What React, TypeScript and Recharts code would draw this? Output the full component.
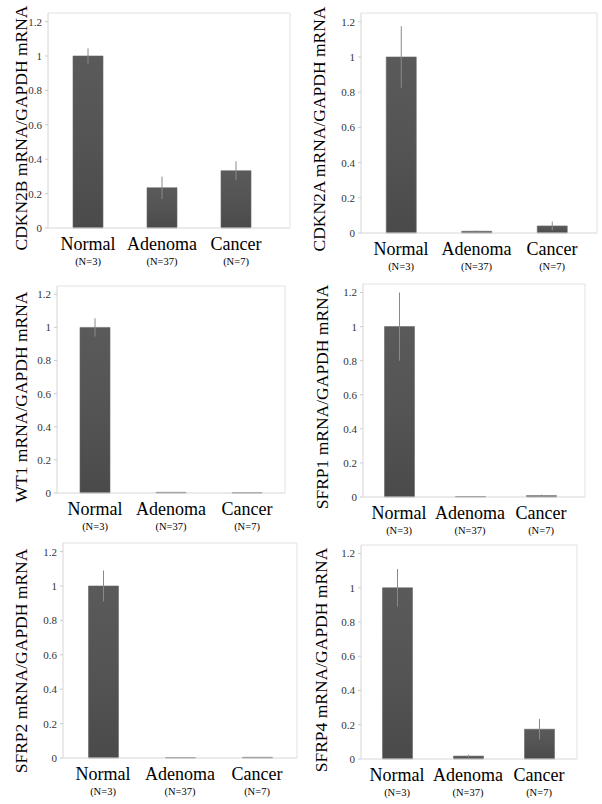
import { BarChart, Bar, XAxis, YAxis, ErrorBar } from 'recharts'

const categories = ['Normal', 'Adenoma', 'Cancer']
const nLabels = ['(N=3)', '(N=37)', '(N=7)']
const yTicks = [0, 0.2, 0.4, 0.6, 0.8, 1, 1.2]

const cdkn2b = [1.0, 0.234, 0.333]
const cdkn2bErr = [0.045, 0.065, 0.055]
const cdkn2a = [1.0, 0.01, 0.04]
const cdkn2aErr = [0.175, 0.004, 0.025]
const wt1 = [1.0, 0.004, 0.002]
const wt1Err = [0.055, 0.001, 0.001]
const sfrp1 = [1.0, 0.003, 0.008]
const sfrp1Err = [0.2, 0.001, 0.006]
const sfrp2 = [1.0, 0.002, 0.004]
const sfrp2Err = [0.09, 0.001, 0.002]
const sfrp4 = [1.0, 0.017, 0.174]
const sfrp4Err = [0.11, 0.008, 0.06]

const SERIF = 'Liberation Serif, Times New Roman, serif'
const W = 301
const H = 280
const YW = 40 // left y axis width
const XH = 30 // bottom x axis height

const panels = [
  { title: 'CDKN2B mRNA/GAPDH mRNA', values: cdkn2b, errs: cdkn2bErr, col: 0, row: 0, axisX: 48, top: 13, base: 228, right: 290, c0: 88, c2: 236, labelX: 27, labelY: 128 },
  { title: 'CDKN2A mRNA/GAPDH mRNA', values: cdkn2a, errs: cdkn2aErr, col: 301, row: 0, axisX: 361, top: 13, base: 233, right: 597, c0: 401, c2: 552, labelX: 325, labelY: 129 },
  { title: 'WT1 mRNA/GAPDH mRNA', values: wt1, errs: wt1Err, col: 0, row: 268, axisX: 57, top: 286, base: 493, right: 285, c0: 95, c2: 248, labelX: 27, labelY: 397 },
  { title: 'SFRP1 mRNA/GAPDH mRNA', values: sfrp1, errs: sfrp1Err, col: 301, row: 268, axisX: 363, top: 284, base: 497, right: 585, c0: 399, c2: 541, labelX: 328, labelY: 397 },
  { title: 'SFRP2 mRNA/GAPDH mRNA', values: sfrp2, errs: sfrp2Err, col: 0, row: 524, axisX: 63, top: 543, base: 758, right: 297, c0: 103, c2: 257, labelX: 27, labelY: 661 },
  { title: 'SFRP4 mRNA/GAPDH mRNA', values: sfrp4, errs: sfrp4Err, col: 301, row: 524, axisX: 361, top: 545, base: 759, right: 577, c0: 397, c2: 539, labelX: 327, labelY: 660 },
]

const YTitle = ({ lx, ly, text }: { lx: number; ly: number; text: string }) => (
  <text
    x={lx}
    y={ly}
    transform={`rotate(-90 ${lx} ${ly})`}
    textAnchor="middle"
    fontSize={17.5}
    fontFamily={SERIF}
    fill="#000"
  >
    {text}
  </text>
)

const CatTick = (props: { x?: number; y?: number; index?: number; payload?: { value: string }; base?: number }) => {
  const { x = 0, index = 0, payload, base = 0 } = props
  return (
    <g>
      <text x={x} y={base + 22} textAnchor="middle" fontSize={18} fontFamily={SERIF} fill="#000">
        {payload?.value}
      </text>
      <text x={x} y={base + 37} textAnchor="middle" fontSize={10.5} fontFamily={SERIF} fill="#000">
        {nLabels[index]}
      </text>
    </g>
  )
}

function Panel({ p, idx }: { p: (typeof panels)[number]; idx: number }) {
  const data = categories.map((name, i) => ({ name, value: p.values[i], err: p.errs[i] }))
  const band = (p.c2 - p.c0) / 2
  const padL = Math.max(0, p.c0 - band / 2 - p.axisX)
  const padR = Math.max(0, p.right - (p.c2 + band / 2))
  const gid = `barFill${idx}`
  return (
    <div style={{ position: 'absolute', left: p.col, top: p.row, width: W, height: H }}>
      <BarChart
        width={W}
        height={H}
        data={data}
        margin={{
          top: p.top - p.row - 1,
          left: p.axisX - p.col - YW,
          right: p.col + W - p.right - 1,
          bottom: p.row + H - p.base - XH,
        }}
      >
        <defs>
          <linearGradient id={gid} x1="0" y1="0" x2="0" y2="1">
            <stop offset="0%" stopColor="#5a5a5a" />
            <stop offset="50%" stopColor="#545454" />
            <stop offset="100%" stopColor="#4a4a4a" />
          </linearGradient>
        </defs>
        <XAxis
          xAxisId="b"
          dataKey="name"
          height={XH}
          interval={0}
          padding={{ left: padL, right: padR }}
          axisLine={{ stroke: '#d6d6d6' }}
          tickLine={false}
          tick={<CatTick base={p.base - p.row} />}
        />
        <XAxis xAxisId="t" dataKey="name" orientation="top" height={1} tick={false} tickLine={false} axisLine={{ stroke: '#e2e2e2' }} />
        <YAxis
          yAxisId="l"
          width={YW}
          domain={[0, 1.25]}
          ticks={yTicks}
          tickSize={3}
          tickMargin={3}
          tickLine={{ stroke: '#cccccc' }}
          axisLine={{ stroke: '#d6d6d6' }}
          tick={{ fill: '#333', fontSize: 11, fontFamily: SERIF }}
          label={<YTitle lx={p.labelX - p.col} ly={p.labelY - p.row} text={p.title} />}
        />
        <YAxis yAxisId="r" orientation="right" width={1} domain={[0, 1.25]} tick={false} tickLine={false} axisLine={{ stroke: '#e2e2e2' }} />
        <Bar xAxisId="b" yAxisId="l" dataKey="value" barSize={30} fill={`url(#${gid})`} stroke="#666" strokeWidth={0.6} isAnimationActive={false}>
          <ErrorBar dataKey="err" width={0} stroke="#8a8a8a" strokeWidth={1} isAnimationActive={false} />
        </Bar>
      </BarChart>
    </div>
  )
}

export default function App() {
  return (
    <div style={{ position: 'absolute', left: 0, top: 0, width: 602, height: 804, background: '#fff' }}>
      {panels.map((p, i) => (
        <Panel key={p.title} p={p} idx={i} />
      ))}
    </div>
  )
}
